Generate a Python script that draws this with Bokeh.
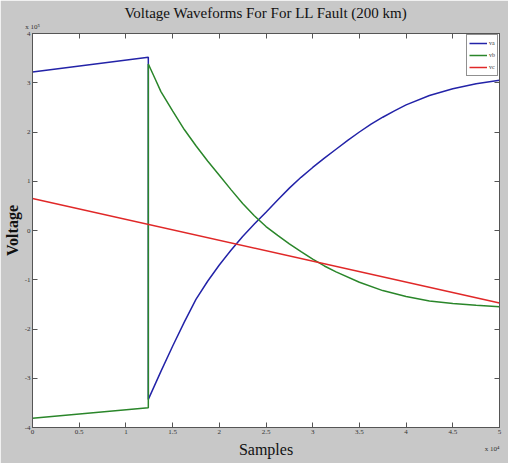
from bokeh.plotting import figure
from bokeh.models import FixedTicker, LinearAxis, Range1d, CustomLabelingPolicy, Title
from bokeh.embed import file_html
from bokeh.resources import INLINE

# Samples in units of 1e4, voltage in units of 1e5
x_va = [0, 1.24, 1.24, 1.375, 1.5, 1.625, 1.75, 1.875, 2.0, 2.125, 2.25, 2.375, 2.5, 2.625, 2.75, 2.875,
        3.0, 3.125, 3.25, 3.375, 3.5, 3.625, 3.75, 3.875, 4.0, 4.25, 4.5, 4.75, 5.0]
va = [3.22, 3.52, -3.43, -2.86, -2.35, -1.86, -1.40, -1.03, -0.70, -0.40, -0.12, 0.13, 0.37, 0.62, 0.86, 1.08,
      1.28, 1.47, 1.65, 1.83, 2.0, 2.16, 2.3, 2.43, 2.55, 2.74, 2.88, 2.98, 3.05]

x_vb = [0, 1.24, 1.24, 1.3125, 1.375, 1.5, 1.625, 1.75, 1.875, 2.0, 2.125, 2.25, 2.375, 2.5, 2.625, 2.75, 2.875,
        3.0, 3.125, 3.25, 3.5, 3.75, 4.0, 4.25, 4.5, 4.75, 5.0]
vb = [-3.81, -3.60, 3.38, 3.08, 2.82, 2.43, 2.05, 1.72, 1.41, 1.12, 0.83, 0.55, 0.30, 0.08, -0.10, -0.27, -0.43,
      -0.58, -0.72, -0.84, -1.05, -1.22, -1.34, -1.43, -1.48, -1.52, -1.55]

x_vc = [0, 5.0]
vc = [0.65, -1.47]

x_ticks = [0, 0.5, 1, 1.5, 2, 2.5, 3, 3.5, 4, 4.5, 5]
x_tick_labels = ["0", "0.5", "1", "1.5", "2", "2.5", "3", "3.5", "4", "4.5", "5"]
y_ticks = [-4, -3, -2, -1, 0, 1, 2, 3, 4]
y_tick_labels = ["-4", "-3", "-2", "-1", "0", "1", "2", "3", "4"]

SERIF = "Liberation Serif"
AX = "#555555"

p = figure(width=508, height=463, output_backend="svg", toolbar_location=None,
           x_range=Range1d(0, 5), y_range=Range1d(-4, 4),
           min_border_left=32, min_border_right=9, min_border_top=33, min_border_bottom=36)
p.background_fill_color = "white"
p.border_fill_color = "#c8c8c8"
p.outline_line_color = AX
p.grid.visible = False

p.title.text = "Voltage Waveforms For For LL Fault (200 km)"
p.title.text_font = SERIF
p.title.text_font_size = "15px"
p.title.text_font_style = "normal"
p.title.align = "center"
p.title.text_color = "#111111"
p.title.standoff = -3

hide_all = CustomLabelingPolicy(code="return new Set()")

def style_axis(ax, show_labels=True):
    ax.major_tick_in = 5
    ax.major_tick_out = 0
    ax.minor_tick_line_color = None
    ax.axis_line_color = AX
    ax.major_tick_line_color = AX
    ax.major_label_text_font = SERIF
    ax.major_label_text_color = "#333333"
    if show_labels:
        ax.major_label_text_font_size = "7px"
        ax.major_label_standoff = 2
    else:
        ax.major_label_text_font_size = "0px"
        ax.major_label_standoff = 0
        ax.major_label_policy = hide_all

style_axis(p.xaxis[0])
style_axis(p.yaxis[0])
p.xaxis[0].ticker = FixedTicker(ticks=x_ticks)
p.yaxis[0].ticker = FixedTicker(ticks=y_ticks)
p.xaxis[0].major_label_overrides = dict(zip(x_ticks, x_tick_labels))
p.yaxis[0].major_label_overrides = dict(zip(y_ticks, y_tick_labels))

p.xaxis[0].axis_label = "Samples"
p.xaxis[0].axis_label_text_font = SERIF
p.xaxis[0].axis_label_text_font_size = "16px"
p.xaxis[0].axis_label_text_font_style = "normal"
p.xaxis[0].axis_label_standoff = 4
p.xaxis[0].axis_label_text_color = "#111111"

p.yaxis[0].axis_label = "Voltage"
p.yaxis[0].axis_label_text_font = SERIF
p.yaxis[0].axis_label_text_font_size = "16px"
p.yaxis[0].axis_label_text_font_style = "bold"
p.yaxis[0].axis_label_standoff = 1
p.yaxis[0].axis_label_text_color = "#111111"

top = LinearAxis(ticker=FixedTicker(ticks=x_ticks))
style_axis(top, False)
top.axis_label = "x 10\u2075"
top.axis_label_align = "start"
top.axis_label_text_font = SERIF
top.axis_label_text_font_size = "7px"
top.axis_label_text_font_style = "normal"
top.axis_label_text_color = "#333333"
top.axis_label_standoff = 3
p.add_layout(top, "above")
right = LinearAxis(ticker=FixedTicker(ticks=y_ticks))
style_axis(right, False)
p.add_layout(right, "right")

mult = Title(text="x 10\u2074", align="right", vertical_align="top", text_font=SERIF,
             text_font_size="7px", text_font_style="normal", text_color="#333333", standoff=-32)
p.add_layout(mult, "below")

p.line(x_va, va, line_color="#2323a8", line_width=1.5, legend_label="va")
p.line(x_vb, vb, line_color="#2a862a", line_width=1.5, legend_label="vb")
p.line(x_vc, vc, line_color="#e02828", line_width=1.5, legend_label="vc")

p.legend.location = "top_right"
p.legend.margin = 1
p.legend.padding = 2
p.legend.spacing = 0
p.legend.label_text_font = SERIF
p.legend.label_text_font_size = "6px"
p.legend.label_text_color = "#333333"
p.legend.label_height = 12
p.legend.label_width = 6
p.legend.glyph_height = 12
p.legend.glyph_width = 18
p.legend.label_standoff = 2
p.legend.border_line_color = "#222222"
p.legend.border_line_width = 1
p.legend.background_fill_color = "white"
p.legend.background_fill_alpha = 1

open("out.html", "w").write(file_html(p, INLINE))
